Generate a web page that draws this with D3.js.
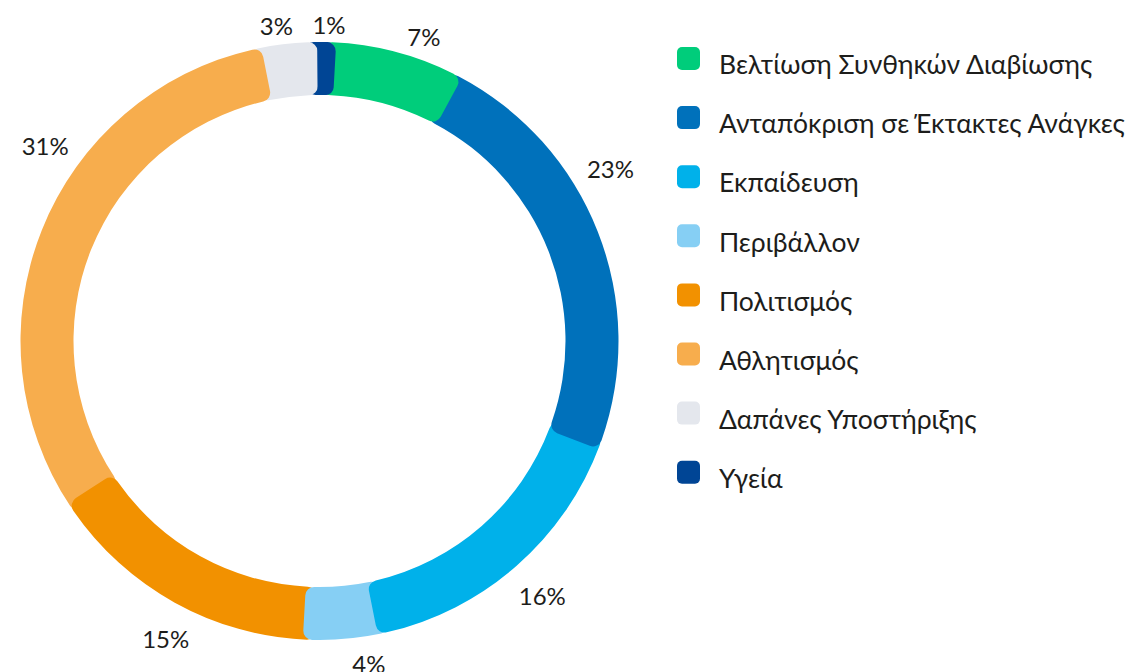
<!DOCTYPE html>
<html lang="el">
<head>
<meta charset="utf-8">
<script src="https://cdn.jsdelivr.net/npm/d3@7/dist/d3.min.js"></script>
<style>
  html, body { margin: 0; padding: 0; background: #ffffff; }
  svg { display: block; }
  text { font-family: Lato, "Noto Sans", sans-serif; fill: #1d1d1b; }
</style>
</head>
<body>
<svg id="chart" width="1131" height="672"></svg>
<script>
// Allocation by programme area (percent of total)
const categories = [
  "Βελτίωση Συνθηκών Διαβίωσης",
  "Ανταπόκριση σε Έκτακτες Ανάγκες",
  "Εκπαίδευση",
  "Περιβάλλον",
  "Πολιτισμός",
  "Αθλητισμός",
  "Δαπάνες Υποστήριξης",
  "Υγεία"
];
const values = [7, 23, 16, 4, 15, 31, 3, 1];
const valueLabels = ["7%", "23%", "16%", "4%", "15%", "31%", "3%", "1%"];
const colors = ["#00cd7b", "#0071bb", "#00b1ea", "#86cff4", "#f29100", "#f7ad4d", "#e4e7ed", "#004595"];

// Layout
const cx = 319.5, cy = 341;
const outerR = 299, innerR = 246;
const corner = 9;
const deg = Math.PI / 180;
const startAngle = 3.2 * deg;
const tuck = 2.5 * deg;            // each slice starts a little under the previous one
const labelGap = 21;
const labelDrop = 4;
const labelTurn = [2.9, -11, -1.6, -4.8, -2.5, 13, -1.9, 0.3]; // degrees, keeps labels clear of each other

const svg = d3.select("#chart");

const pie = d3.pie().sort(null).value(d => d)
  .startAngle(startAngle).endAngle(startAngle + 2 * Math.PI);
const arcs = pie(values).map((a, i) => ({ ...a, i }));

const arc = d3.arc().innerRadius(innerR).outerRadius(outerR).cornerRadius(corner);

const ring = svg.append("g").attr("transform", `translate(${cx},${cy})`);

// Slices are stacked so that every slice's rounded end lies over the next one.
const drawOrder = arcs.slice().reverse();
ring.selectAll("path.slice")
  .data(drawOrder)
  .join("path")
  .attr("class", "slice")
  .attr("fill", d => colors[d.i])
  .attr("d", d => arc({ startAngle: d.startAngle - tuck, endAngle: d.endAngle }));

// The last slice closes the ring on top of the first slice's tucked start.
const last = arcs[arcs.length - 1];
ring.append("path")
  .attr("fill", colors[last.i])
  .attr("d", arc({ startAngle: last.startAngle, endAngle: last.endAngle }));

// Percentage labels just outside the ring
const lbl = ring.selectAll("text.pct")
  .data(arcs)
  .join("text")
  .attr("class", "pct")
  .attr("text-anchor", "middle")
  .attr("dominant-baseline", "central")
  .style("font-size", "24px")
  .text(d => valueLabels[d.i]);

lbl.each(function (d) {
  const w = this.getComputedTextLength();
  const a = (d.startAngle + d.endAngle) / 2 + labelTurn[d.i] * deg;
  const s = Math.sin(a), c = Math.cos(a);
  const dist = outerR + labelGap + Math.abs(s) * w / 2;
  d3.select(this).attr("x", s * dist).attr("y", -c * dist + labelDrop);
});

// Legend
const legend = svg.append("g").attr("transform", "translate(677,47)");
const rowStep = 59.1;
const items = legend.selectAll("g.item")
  .data(categories)
  .join("g")
  .attr("class", "item")
  .attr("transform", (d, i) => `translate(0,${i * rowStep})`);

items.append("rect")
  .attr("width", 23).attr("height", 23)
  .attr("rx", 5).attr("ry", 5)
  .attr("fill", (d, i) => colors[i]);

items.append("text")
  .attr("x", 42)
  .attr("y", 27.3)
  .style("font-size", "26.5px")
  .text(d => d);
</script>
</body>
</html>
